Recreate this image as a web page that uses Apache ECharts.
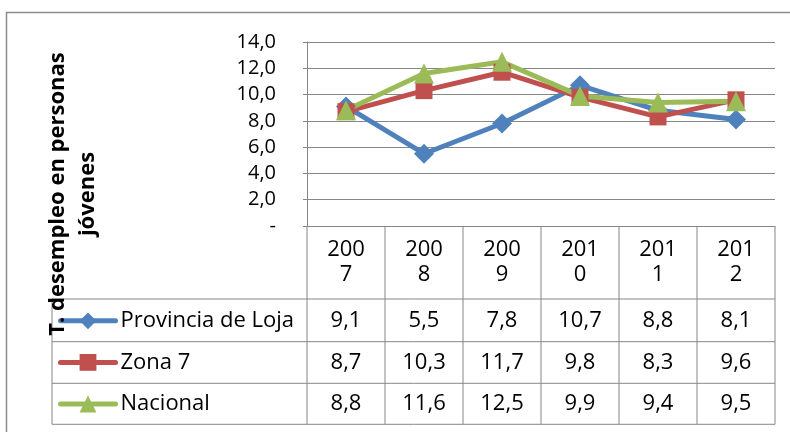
<!DOCTYPE html>
<html>
<head>
<meta charset="utf-8">
<script src="https://cdn.jsdelivr.net/npm/echarts@6/dist/echarts.min.js"></script>
<style>
  html, body { margin: 0; padding: 0; background: #fff; }
  #chart { width: 790px; height: 432px; }
</style>
</head>
<body>
<div id="chart"></div>
<script>
// data
const years = ['2007', '2008', '2009', '2010', '2011', '2012'];
const loja = [9.1, 5.5, 7.8, 10.7, 8.8, 8.1];
const zona7 = [8.7, 10.3, 11.7, 9.8, 8.3, 9.6];
const nacional = [8.8, 11.6, 12.5, 9.9, 9.4, 9.5];
const seriesNames = ['Provincia de Loja', 'Zona 7', 'Nacional'];
const yTitle = 'T. desempleo en personas\njóvenes';

const colors = ['#4F81BD', '#C0504D', '#9BBB59'];
const symbols = ['diamond', 'rect', 'triangle'];
const symbolSizes = [20, 17, 20];
const gridColor = '#868686';
const font = 'Open Sans';

const fmt = v => v.toFixed(1).replace('.', ',');

const chart = echarts.init(document.getElementById('chart'));

// table row edges (header row + 3 data rows)
const rowEdges = [226, 299, 341.7, 383.3, 424.3];
const tableLeft = 52;

const allData = [loja, zona7, nacional];

let option = {
    animation: false,
    color: colors,
    grid: { left: 307, right: 15, top: 42, bottom: 206 },
    legend: {
        orient: 'vertical',
        left: 58,
        top: 309.8,
        padding: 0,
        itemGap: 19.6,
        itemWidth: 55,
        itemHeight: 21,
        selectedMode: false,
        data: seriesNames,
        lineStyle: { width: 5, cap: 'round' },
        textStyle: { fontFamily: font, fontSize: 22, lineHeight: 22, color: '#000' }
    },
    xAxis: {
        type: 'category',
        data: years,
        boundaryGap: true,
        axisLine: { show: true, lineStyle: { color: gridColor, width: 1 } },
        axisTick: { show: false },
        axisLabel: { show: false },
        splitLine: { show: false }
    },
    yAxis: {
        type: 'value',
        min: 0,
        max: 14,
        interval: 2,
        axisLine: { show: true, lineStyle: { color: gridColor, width: 1 } },
        axisTick: { show: true, length: 4, lineStyle: { color: gridColor } },
        axisLabel: {
            margin: 31,
            fontFamily: font,
            fontSize: 20,
            color: '#000',
            formatter: v => v === 0 ? '-' : fmt(v)
        },
        splitLine: { show: true, lineStyle: { color: gridColor, width: 1 } }
    },
    series: seriesNames.map((name, k) => ({
        name: name,
        type: 'line',
        data: allData[k],
        symbol: symbols[k],
        symbolSize: symbolSizes[k],
        showAllSymbol: true,
        lineStyle: { width: 5, color: colors[k] },
        itemStyle: { color: colors[k] },
        emphasis: { disabled: true }
    }))
};
chart.setOption(option);

// data table under the plot, columns taken from the category axis
const g = [];
const line = (x1, y1, x2, y2) => ({
    type: 'line',
    shape: { x1: x1, y1: y1, x2: x2, y2: y2 },
    style: { stroke: gridColor, lineWidth: 1 },
    z: 50
});
const centers = years.map((y, i) => chart.convertToPixel({ xAxisIndex: 0 }, i));
const colW = centers.length > 1 ? centers[1] - centers[0] : 78;
const plotL = centers[0] - colW / 2;
const plotR = centers[centers.length - 1] + colW / 2;

// horizontal lines
for (let r = 1; r < rowEdges.length; r++) {
    g.push(line(tableLeft, rowEdges[r], plotR, rowEdges[r]));
}
// vertical lines
g.push(line(tableLeft, rowEdges[1], tableLeft, rowEdges[4]));
g.push(line(plotL, rowEdges[0], plotL, rowEdges[4]));
centers.forEach(c => g.push(line(c + colW / 2, rowEdges[0], c + colW / 2, rowEdges[4])));

// header cells
centers.forEach((c, i) => {
    g.push({
        type: 'text', x: c, y: (rowEdges[0] + rowEdges[1]) / 2, z: 60,
        style: {
            text: years[i].slice(0, 3) + '\n' + years[i].slice(3),
            fontFamily: font, fontSize: 22, lineHeight: 25,
            fill: '#000', align: 'center', verticalAlign: 'middle'
        }
    });
});
// value cells
allData.forEach((arr, k) => {
    const cy = (rowEdges[k + 1] + rowEdges[k + 2]) / 2;
    arr.forEach((v, i) => {
        g.push({
            type: 'text', x: centers[i], y: cy, z: 60,
            style: {
                text: fmt(v), fontFamily: font, fontSize: 22,
                fill: '#000', align: 'center', verticalAlign: 'middle'
            }
        });
    });
});

// outer chart border
g.push({
    type: 'rect', shape: { x: 6.5, y: 12.5, width: 820, height: 500 },
    style: { fill: null, stroke: '#8c8c8c', lineWidth: 1.5 }, z: 1
});

// rotated axis title
g.push({
    type: 'text', x: 73, y: 194, rotation: Math.PI / 2, z: 70,
    style: {
        text: yTitle, fontFamily: font, fontSize: 22, fontWeight: 'bold',
        lineHeight: 30, fill: '#000', align: 'center', verticalAlign: 'middle'
    }
});

chart.setOption({ graphic: g });
</script>
</body>
</html>
